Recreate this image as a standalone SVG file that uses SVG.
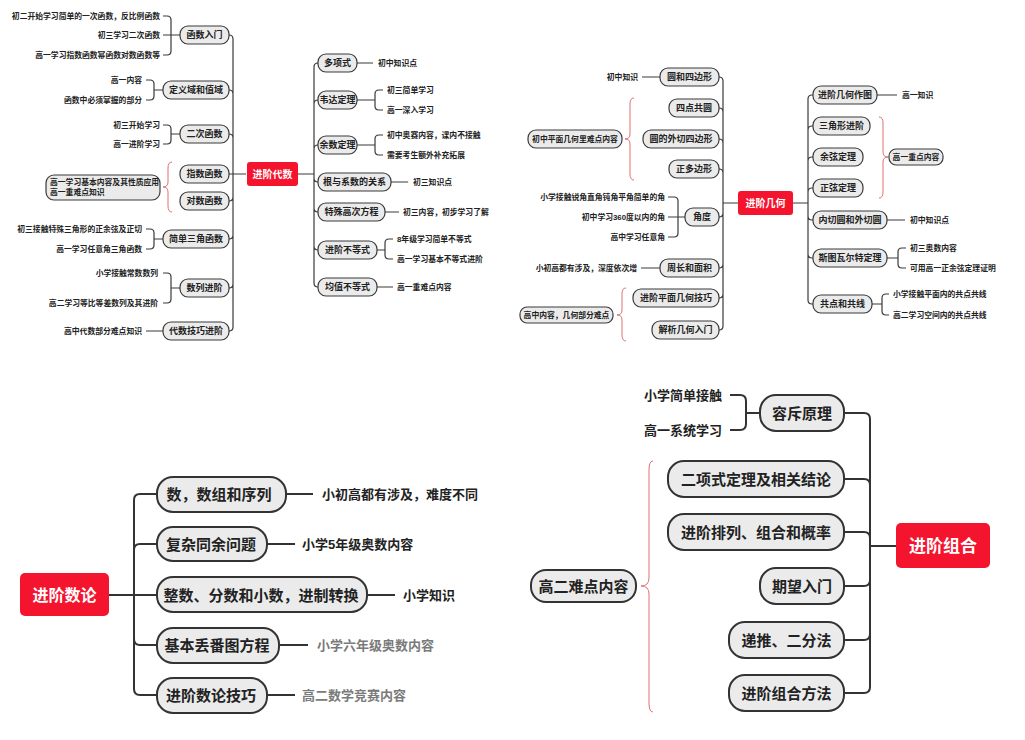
<svg xmlns="http://www.w3.org/2000/svg" width="1025" height="740" viewBox="0 0 1025 740">
<style>
text{font-family:"Liberation Sans","Noto Sans CJK SC",sans-serif;font-weight:bold;fill:#222;dominant-baseline:central}
.n{font-size:9px;text-anchor:middle}
.s{font-size:7.8px}
.e{text-anchor:end}
.m{text-anchor:middle}
.N{font-size:15px;text-anchor:middle}
.C{font-size:13px}
.g{fill:#7a7a7a}
.rt{fill:#fff;text-anchor:middle}
.nd{fill:#ebebeb;stroke:#3a3a3a;stroke-width:1.2}
.ND{fill:#ebebeb;stroke:#333;stroke-width:2}
.root{fill:#f5142d}
.c{fill:none;stroke:#3a3a3a;stroke-width:1.2}
.C2{fill:none;stroke:#333;stroke-width:2}
.br{fill:none;stroke:#e07070;stroke-width:1}
</style>
<rect width="1025" height="740" fill="#fff"/>

<g id="connectors">
<path class="c" d="M246,174 H233 M233,174 V39 Q233,35 229,35 M233,174 V94 Q233,90 229,90 M233,174 V138 Q233,134 229,134 M233,174 H229 M233,174 V197 Q233,201 229,201 M233,174 V235 Q233,239 229,239 M233,174 V284 Q233,288 229,288 M233,174 V327 Q233,331 229,331"/>
<path class="c" d="M163,16 H167 Q171,16 171,20 V51 Q171,55 167,55 H163 M163,35 H180 M146,80 H150 Q154,80 154,84 V96 Q154,100 150,100 H146 M154,90 H163 M163,125 H167 Q171,125 171,129 V140 Q171,144 167,144 H163 M171,134 H180 M146,229 H150 Q154,229 154,233 V245 Q154,249 150,249 H146 M154,239 H163 M163,273 H167 Q171,273 171,277 V299 Q171,303 167,303 H163 M171,288 H180 M146,331 H163"/>
<path class="c" d="M298,174 H314 M314,174 V67 Q314,63 318,63 M314,174 V104 Q314,100 318,100 M314,174 V149 Q314,145 318,145 M314,174 V178 Q314,182 318,182 M314,174 V208 Q314,212 318,212 M314,174 V246 Q314,250 318,250 M314,174 V283 Q314,287 318,287"/>
<path class="c" d="M357,63 H373 M357,100 H375 M383,90 H379 Q375,90 375,94 V106 Q375,110 379,110 H383 M357,145 H375 M383,135 H379 Q375,135 375,139 V151 Q375,155 379,155 H383 M391,182 H408 M385,212 H399 M377,250 H385 M393,239 H389 Q385,239 385,243 V255 Q385,259 389,259 H393 M377,287 H393"/>
<path class="c" d="M738,203 H723 M723,203 V81 Q723,77 719,77 M723,203 V112 Q723,108 719,108 M723,203 V143 Q723,139 719,139 M723,203 V173 Q723,169 719,169 M723,203 V213 Q723,217 719,217 M723,203 V264 Q723,268 719,268 M723,203 V294 Q723,298 719,298 M723,203 V326 Q723,330 719,330"/>
<path class="c" d="M642,77 H660 M668,197 H674 Q678,197 678,201 V233 Q678,237 674,237 H668 M668,217 H685 M641,268 H660"/>
<path class="c" d="M793,203 H808 M808,203 V99 Q808,95 812,95 H813 M808,203 V130 Q808,126 812,126 H813 M808,203 V161 Q808,157 812,157 H813 M808,203 V192 Q808,188 812,188 H813 M808,203 V216 Q808,220 812,220 H813 M808,203 V254 Q808,258 812,258 H813 M808,203 V300 Q808,304 812,304 H813"/>
<path class="c" d="M877,95 H897 M887,220 H905 M887,258 H898 M906,248 H902 Q898,248 898,252 V264 Q898,268 902,268 H906 M872,304 H882 M889,294 H886 Q882,294 882,298 V311 Q882,315 886,315 H889"/>
<path class="C2" d="M109,595 H157 M134,595 V500 Q134,494 140,494 H157 M134,595 V550 Q134,544 140,544 H157 M134,595 V639 Q134,645 140,645 H157 M134,595 V689 Q134,695 140,695 H157"/>
<path class="C2" d="M286,494 H313 M267,544 H295 M367,595 H395 M279,645 H308 M267,695 H295"/>
<path class="C2" d="M896,546 H870 M870,546 V419 Q870,413 864,413 H844 M870,546 V485 Q870,479 864,479 H844 M870,546 V538 Q870,532 864,532 H844 M870,546 V580 Q870,586 864,586 H844 M870,546 V634 Q870,640 864,640 H844 M870,546 V687 Q870,693 864,693 H844"/>
<path class="C2" d="M730,395 H740 Q746,395 746,401 V424 Q746,430 740,430 H730 M746,413 H760"/>
<path class="br" d="M172,162 Q168,162 168,168 V182 Q168,187 163,187 Q168,187 168,192 V206 Q168,212 172,212"/>
<path class="br" d="M634,98 Q630,98 630,104 V134 Q630,139 625,139 Q630,139 630,144 V174 Q630,180 634,180"/>
<path class="br" d="M626,288 Q622,288 622,294 V310 Q622,315 617,315 Q622,315 622,320 V335 Q622,341 626,341"/>
<path class="br" d="M879,117 Q883,117 883,123 V152 Q883,157 888,157 Q883,157 883,162 V192 Q883,198 879,198"/>
<path class="br" d="M653,461 Q649,461 649,470 V578 Q649,586 641,586 Q649,586 649,594 V703 Q649,712 653,712"/>
</g>

<g id="algebra-root"><rect class="root" x="247" y="162" width="51" height="24" rx="3"/><text class="rt" x="272.5" y="174" font-size="10">进阶代数</text></g>
<g id="a-hanshu"><rect class="nd" x="180" y="26" width="49" height="18" rx="8"/><text class="n" x="204.5" y="35">函数入门</text>
<text class="s e" x="160" y="16">初二开始学习简单的一次函数，反比例函数</text><text class="s e" x="160" y="35">初三学习二次函数</text><text class="s e" x="160" y="55">高一学习指数函数幂函数对数函数等</text></g>
<g id="a-dingyi"><rect class="nd" x="163" y="81" width="66" height="18" rx="8"/><text class="n" x="196" y="90">定义域和值域</text>
<text class="s e" x="142" y="80">高一内容</text><text class="s e" x="142" y="100">函数中必须掌握的部分</text></g>
<g id="a-erci"><rect class="nd" x="180" y="125" width="49" height="18" rx="8"/><text class="n" x="204.5" y="134">二次函数</text>
<text class="s e" x="160" y="125">初三开始学习</text><text class="s e" x="160" y="144">高一进阶学习</text></g>
<g id="a-zhishu"><rect class="nd" x="180" y="165" width="49" height="18" rx="8"/><text class="n" x="204.5" y="174">指数函数</text></g>
<g id="a-duishu"><rect class="nd" x="180" y="192" width="49" height="18" rx="8"/><text class="n" x="204.5" y="201">对数函数</text></g>
<g id="a-note"><rect class="nd" x="46" y="175" width="114" height="25" rx="8"/><text class="s" x="50" y="182.5">高一学习基本内容及其性质应用</text><text class="s" x="50" y="192.5">高一重难点知识</text></g>
<g id="a-sanjiao"><rect class="nd" x="163" y="230" width="66" height="18" rx="8"/><text class="n" x="196" y="239">简单三角函数</text>
<text class="s e" x="142" y="229">初三接触特殊三角形的正余弦及正切</text><text class="s e" x="142" y="249">高一学习任意角三角函数</text></g>
<g id="a-shulie"><rect class="nd" x="180" y="279" width="49" height="18" rx="8"/><text class="n" x="204.5" y="288">数列进阶</text>
<text class="s e" x="158" y="273">小学接触常数数列</text><text class="s e" x="158" y="303">高二学习等比等差数列及其进阶</text></g>
<g id="a-jiqiao"><rect class="nd" x="163" y="322" width="66" height="18" rx="8"/><text class="n" x="196" y="331">代数技巧进阶</text>
<text class="s e" x="142" y="331">高中代数部分难点知识</text></g>

<g id="a-duoxiang"><rect class="nd" x="318" y="54" width="39" height="18" rx="8"/><text class="n" x="337.5" y="63">多项式</text><text class="s" x="378" y="63">初中知识点</text></g>
<g id="a-weida"><rect class="nd" x="318" y="91" width="39" height="18" rx="8"/><text class="n" x="337.5" y="100">韦达定理</text><text class="s" x="387" y="90">初三简单学习</text><text class="s" x="387" y="110">高一深入学习</text></g>
<g id="a-yushu"><rect class="nd" x="318" y="136" width="39" height="18" rx="8"/><text class="n" x="337.5" y="145">余数定理</text><text class="s" x="387" y="135">初中奥赛内容，课内不接触</text><text class="s" x="387" y="155">需要考生额外补充拓展</text></g>
<g id="a-genxi"><rect class="nd" x="318" y="173" width="73" height="18" rx="8"/><text class="n" x="354.5" y="182">根与系数的关系</text><text class="s" x="413" y="182">初三知识点</text></g>
<g id="a-gaoci"><rect class="nd" x="318" y="203" width="67" height="18" rx="8"/><text class="n" x="351.5" y="212">特殊高次方程</text><text class="s" x="403" y="212">初三内容，初步学习了解</text></g>
<g id="a-budengshi"><rect class="nd" x="318" y="241" width="59" height="18" rx="8"/><text class="n" x="347.5" y="250">进阶不等式</text><text class="s" x="397" y="239">8年级学习简单不等式</text><text class="s" x="397" y="259">高一学习基本不等式进阶</text></g>
<g id="a-junzhi"><rect class="nd" x="318" y="278" width="59" height="18" rx="8"/><text class="n" x="347.5" y="287">均值不等式</text><text class="s" x="397" y="287">高一重难点内容</text></g>

<g id="geo-root"><rect class="root" x="738" y="191" width="55" height="24" rx="3"/><text class="rt" x="765.5" y="203" font-size="10">进阶几何</text></g>
<g id="g-yuan"><rect class="nd" x="660" y="68" width="59" height="18" rx="8"/><text class="n" x="689.5" y="77">圆和四边形</text><text class="s e" x="638" y="77">初中知识</text></g>
<g id="g-sidian"><rect class="nd" x="669" y="99" width="50" height="18" rx="8"/><text class="n" x="694" y="108">四点共圆</text></g>
<g id="g-waiqie"><rect class="nd" x="643" y="130" width="76" height="18" rx="8"/><text class="n" x="681" y="139">圆的外切四边形</text></g>
<g id="g-zheng"><rect class="nd" x="669" y="160" width="50" height="18" rx="8"/><text class="n" x="694" y="169">正多边形</text></g>
<g id="g-note1"><rect class="nd" x="528" y="130" width="94" height="18" rx="8"/><text class="s m" x="575" y="139">初中平面几何里难点内容</text></g>
<g id="g-jiaodu"><rect class="nd" x="685" y="208" width="34" height="18" rx="8"/><text class="n" x="702" y="217">角度</text>
<text class="s e" x="665" y="197">小学接触锐角直角钝角平角简单的角</text><text class="s e" x="665" y="217">初中学习360度以内的角</text><text class="s e" x="665" y="237">高中学习任意角</text></g>
<g id="g-zhouchang"><rect class="nd" x="660" y="259" width="59" height="18" rx="8"/><text class="n" x="689.5" y="268">周长和面积</text><text class="s e" x="637" y="268">小初高都有涉及，深度依次增</text></g>
<g id="g-pingmian"><rect class="nd" x="633" y="289" width="86" height="18" rx="8"/><text class="n" x="676" y="298">进阶平面几何技巧</text></g>
<g id="g-jiexi"><rect class="nd" x="652" y="321" width="67" height="18" rx="8"/><text class="n" x="685.5" y="330">解析几何入门</text></g>
<g id="g-note2"><rect class="nd" x="520" y="307" width="93" height="16" rx="7"/><text class="s m" x="566.5" y="315">高中内容，几何部分难点</text></g>

<g id="g-zuotu"><rect class="nd" x="813" y="86" width="64" height="18" rx="8"/><text class="n" x="845" y="95">进阶几何作图</text><text class="s" x="902" y="95">高一知识</text></g>
<g id="g-sanjiao"><rect class="nd" x="813" y="117" width="57" height="18" rx="8"/><text class="n" x="841.5" y="126">三角形进阶</text></g>
<g id="g-yuxian"><rect class="nd" x="813" y="148" width="50" height="18" rx="8"/><text class="n" x="838" y="157">余弦定理</text></g>
<g id="g-zhengxian"><rect class="nd" x="813" y="179" width="50" height="18" rx="8"/><text class="n" x="838" y="188">正弦定理</text></g>
<g id="g-note3"><rect class="nd" x="889" y="149" width="54" height="16" rx="7"/><text class="s m" x="916" y="157">高一重点内容</text></g>
<g id="g-neiqie"><rect class="nd" x="813" y="211" width="74" height="18" rx="8"/><text class="n" x="850" y="220">内切圆和外切圆</text><text class="s" x="910" y="220">初中知识点</text></g>
<g id="g-situ"><rect class="nd" x="813" y="249" width="74" height="18" rx="8"/><text class="n" x="850" y="258">斯图瓦尔特定理</text><text class="s" x="910" y="248">初三奥数内容</text><text class="s" x="910" y="268">可用高一正余弦定理证明</text></g>
<g id="g-gongdian"><rect class="nd" x="813" y="295" width="59" height="18" rx="8"/><text class="n" x="842.5" y="304">共点和共线</text><text class="s" x="893" y="294">小学接触平面内的共点共线</text><text class="s" x="893" y="315">高二学习空间内的共点共线</text></g>

<g id="nt-root"><rect class="root" x="20" y="573" width="89" height="43" rx="5"/><text class="rt" x="64.5" y="595" font-size="16">进阶数论</text></g>
<g id="nt-1"><rect class="ND" x="157" y="477" width="129" height="35" rx="16"/><text class="N" x="219" y="494">数，数组和序列</text><text class="C" x="322" y="494">小初高都有涉及，难度不同</text></g>
<g id="nt-2"><rect class="ND" x="157" y="527" width="110" height="34" rx="16"/><text class="N" x="211" y="544">复杂同余问题</text><text class="C" x="302" y="544">小学5年级奥数内容</text></g>
<g id="nt-3"><rect class="ND" x="157" y="577" width="210" height="35" rx="16"/><text class="N" x="261" y="595">整数、分数和小数，进制转换</text><text class="C" x="403" y="595">小学知识</text></g>
<g id="nt-4"><rect class="ND" x="157" y="628" width="122" height="35" rx="16"/><text class="N" x="217" y="645">基本丢番图方程</text><text class="C g" x="317" y="645">小学六年级奥数内容</text></g>
<g id="nt-5"><rect class="ND" x="157" y="678" width="110" height="35" rx="16"/><text class="N" x="211" y="695">进阶数论技巧</text><text class="C g" x="302" y="695">高二数学竞赛内容</text></g>

<g id="cb-root"><rect class="root" x="896" y="523" width="94" height="45" rx="5"/><text class="rt" x="943" y="546" font-size="17">进阶组合</text></g>
<g id="cb-1"><rect class="ND" x="760" y="395" width="84" height="36" rx="16"/><text class="N" x="802" y="413">容斥原理</text><text class="C e" x="722" y="395">小学简单接触</text><text class="C e" x="722" y="430">高一系统学习</text></g>
<g id="cb-2"><rect class="ND" x="668" y="461" width="176" height="36" rx="16"/><text class="N" x="756" y="479">二项式定理及相关结论</text></g>
<g id="cb-3"><rect class="ND" x="668" y="514" width="176" height="36" rx="16"/><text class="N" x="756" y="532">进阶排列、组合和概率</text></g>
<g id="cb-4"><rect class="ND" x="760" y="568" width="84" height="36" rx="16"/><text class="N" x="802" y="586">期望入门</text></g>
<g id="cb-5"><rect class="ND" x="729" y="622" width="115" height="36" rx="16"/><text class="N" x="786.5" y="640">递推、二分法</text></g>
<g id="cb-6"><rect class="ND" x="729" y="675" width="115" height="36" rx="16"/><text class="N" x="786.5" y="693">进阶组合方法</text></g>
<g id="cb-note"><rect class="ND" x="531" y="570" width="105" height="32" rx="15"/><text class="N" x="583.5" y="586">高二难点内容</text></g>
</svg>
